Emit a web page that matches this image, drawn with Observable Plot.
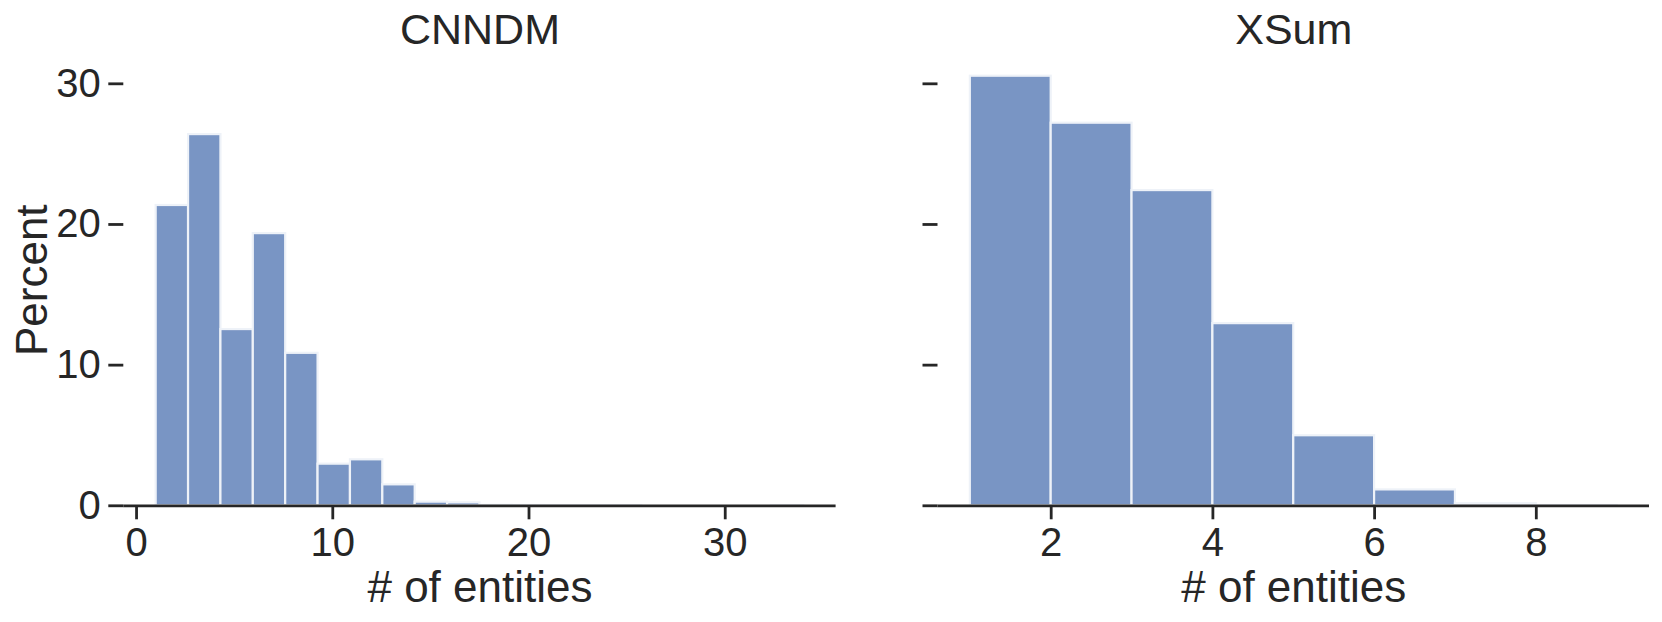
<!DOCTYPE html>
<html><head><meta charset="utf-8">
<script src="https://cdn.jsdelivr.net/npm/d3@7"></script>
<script src="https://cdn.jsdelivr.net/npm/@observablehq/plot@0.6"></script>
<style>
body{margin:0;background:#fff;}
#wrap{display:flex;width:1662px;height:622px;}
#wrap svg{display:block;}
</style></head><body><div id="wrap"></div>
<script>
const titles = ["CNNDM", "XSum"];
const xLabel = "# of entities";
const yLabel = "Percent";
const yTicks = [0, 10, 20, 30];

const cnndmBinStart = [1, 2.65, 4.3, 5.95, 7.6, 9.25, 10.9, 12.55, 14.2, 15.85, 17.5, 19.15, 20.8, 22.45, 24.1, 25.75, 27.4, 29.05, 30.7, 32.35];
const cnndmBinEnd   = [2.65, 4.3, 5.95, 7.6, 9.25, 10.9, 12.55, 14.2, 15.85, 17.5, 19.15, 20.8, 22.45, 24.1, 25.75, 27.4, 29.05, 30.7, 32.35, 34];
const cnndmPercent  = [21.35, 26.39, 12.53, 19.35, 10.84, 2.96, 3.27, 1.49, 0.26, 0.21, 0.03, 0.02, 0.01, 0.01, 0.01, 0, 0, 0, 0, 0.01];
const cnndmTicks = [0, 10, 20, 30];

const xsumBinStart = [1, 2, 3, 4, 5, 6, 7, 8];
const xsumBinEnd   = [2, 3, 4, 5, 6, 7, 8, 9];
const xsumPercent  = [30.54, 27.2, 22.41, 12.95, 4.98, 1.13, 0.15, 0.02];
const xsumTicks = [2, 4, 6, 8];

const INK = "#262626";

function panel({title, starts, ends, pct, ticks, domain, width, ml, mr, showY}) {
  const data = pct.map((p, i) => ({x1: starts[i], x2: ends[i], y: p}));
  const marks = [
    Plot.rectY(data, {x1: "x1", x2: "x2", y: "y", fill: "#7995c4", stroke: "#eef2f8", strokeWidth: 2.2, inset: 0}),
    Plot.ruleY([0], {stroke: INK, strokeWidth: 2.8}),
    Plot.axisX({ticks, tickSize: 14, tickPadding: 8, fontSize: 40, label: null, stroke: INK, strokeWidth: 2.8}),
    Plot.axisY({ticks: yTicks, tickSize: 15, tickPadding: 8, fontSize: 40, label: null, stroke: INK, strokeWidth: 2.8,
      tickFormat: showY ? (d => String(d)) : (() => "")}),
    Plot.text([title], {frameAnchor: "top", dy: -11.2, lineAnchor: "bottom", textAnchor: "middle", fontSize: 43, fill: INK}),
    Plot.text([xLabel], {frameAnchor: "bottom", dy: 96, lineAnchor: "bottom", textAnchor: "middle", fontSize: 44, fill: INK})
  ];
  if (showY) marks.push(Plot.text([yLabel], {frameAnchor: "left", dx: -76.5, rotate: -90, lineAnchor: "bottom", textAnchor: "middle", fontSize: 44, fill: INK}));
  return Plot.plot({
    width, height: 622,
    marginLeft: ml, marginRight: mr, marginTop: 54.2, marginBottom: 116.7,
    style: {fontFamily: '"Liberation Sans", Arial, sans-serif', color: INK, background: "white", overflow: "visible"},
    x: {domain, ticks},
    y: {domain: [0, 32.07]},
    marks
  });
}

const wrap = document.getElementById("wrap");
wrap.appendChild(panel({title: titles[0], starts: cnndmBinStart, ends: cnndmBinEnd, pct: cnndmPercent, ticks: cnndmTicks,
  domain: [-0.65, 35.65], width: 840, ml: 123.3, mr: 4.4, showY: true}));
wrap.appendChild(panel({title: titles[1], starts: xsumBinStart, ends: xsumBinEnd, pct: xsumPercent, ticks: xsumTicks,
  domain: [0.6, 9.4], width: 822, ml: 97.5, mr: 13, showY: false}));
</script></body></html>
